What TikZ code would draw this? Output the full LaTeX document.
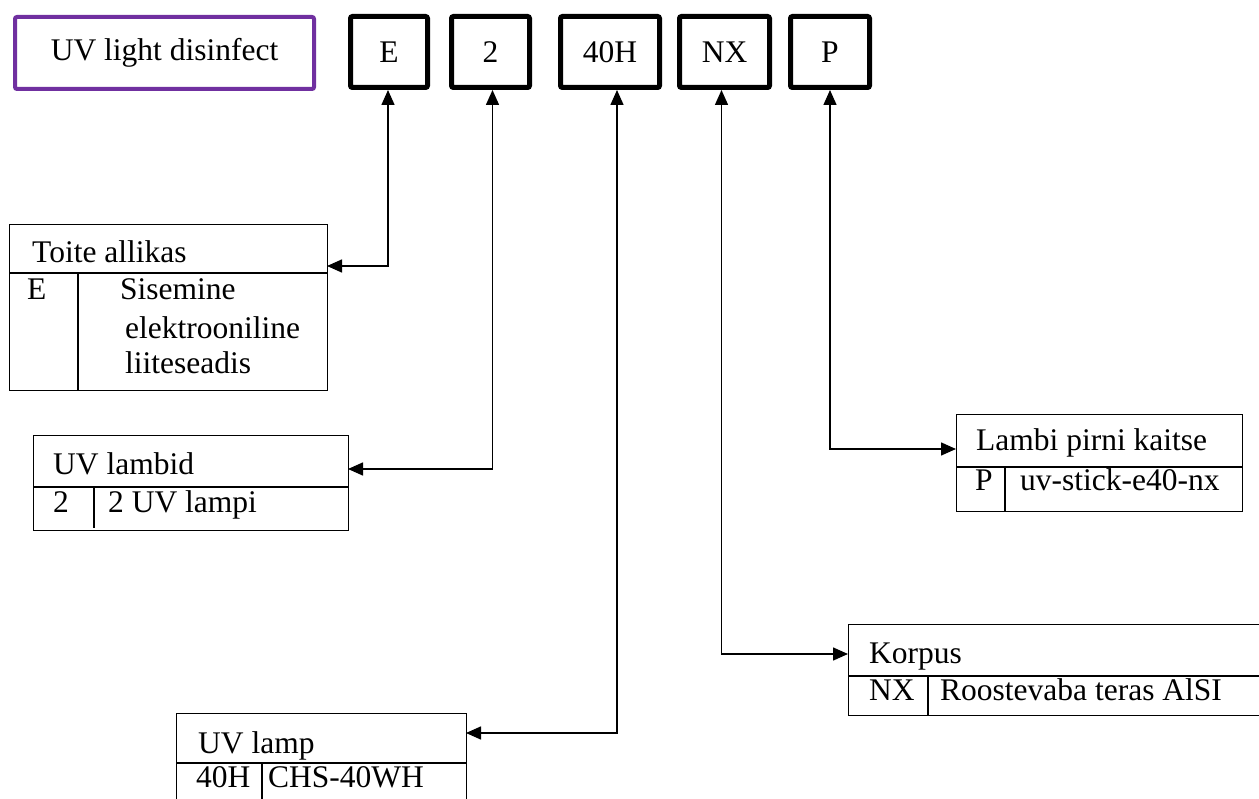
\documentclass[tikz,border=0pt]{standalone}
\usepackage{fontspec}
\setmainfont{Liberation Serif}
\usetikzlibrary{arrows.meta}
\definecolor{uvpurple}{HTML}{7030A0}
\begin{document}
\begin{tikzpicture}[x=1pt,y=-1pt,
  txt/.style={font=\fontsize{31.5}{37}\selectfont, inner sep=0pt, anchor=base west},
  codebox/.style={draw=black, line width=5pt, rounded corners=2pt, minimum height=71pt,
     inner sep=0pt, font=\fontsize{31.5}{37}\selectfont},
  titlebox/.style={draw=uvpurple, line width=4pt, rounded corners=2pt, minimum height=72pt,
     minimum width=299pt, inner sep=0pt, font=\fontsize{31.5}{37}\selectfont},
  tbl/.style={draw=black, line width=1.3pt, inner sep=0pt, anchor=north west},
  sep/.style={line width=2pt},
  vsep/.style={line width=1.3pt},
  conn/.style={line width=1.5pt, {Triangle[length=15pt,width=13pt]}-{Triangle[length=15pt,width=13pt]}}
]
\useasboundingbox (0,0) rectangle (1259,799);

% top row
\node[titlebox] (title) at (164.5,53) {UV light disinfect};
\node[codebox, minimum width=77pt] (cE) at (389,52) {E};
\node[codebox, minimum width=78pt] (c2) at (490.5,52) {2};
\node[codebox, minimum width=99pt] (c40) at (610,52) {40H};
\node[codebox, minimum width=90pt] (cNX) at (724.5,52) {NX};
\node[codebox, minimum width=79pt] (cP) at (830,52) {P};

% Toite allikas
\node[tbl, minimum width=318pt, minimum height=166pt] (toite) at (9,224) {};
\draw[sep] (toite.west |- 0,273) -- (toite.east |- 0,273);
\draw[vsep] (78,273) -- (toite.south -| 78,0);
\node[txt] (toiteT) at (32,263) {Toite allikas};
\node[txt] (toiteC) at (27,300) {E};
\node[txt] (toiteD1) at (120,300) {Sisemine};
\node[txt] (toiteD2) at (125,339) {elektrooniline};
\node[txt] (toiteD3) at (125,374) {liiteseadis};
\coordinate (toiteIn) at (327,266);

% UV lambid
\node[tbl, minimum width=315pt, minimum height=95pt] (lambid) at (33,435) {};
\draw[sep] (lambid.west |- 0,487) -- (lambid.east |- 0,487);
\draw[vsep] (94,487) -- (94,528);
\node[txt] (lambidT) at (53,475) {UV lambid};
\node[txt] (lambidC) at (53,512) {2};
\node[txt] (lambidD) at (108,512) {2 UV lampi};
\coordinate (lambidIn) at (348,469);

% UV lamp
\node[tbl, minimum width=290pt, minimum height=110pt] (lamp) at (176,713) {};
\draw[sep] (lamp.west |- 0,763) -- (lamp.east |- 0,763);
\draw[vsep] (262,763) -- (262,810);
\node[txt] (lampT) at (198,753) {UV lamp};
\node[txt] (lampC) at (196,787) {40H};
\node[txt] (lampD) at (268,787) {CHS-40WH};
\coordinate (lampIn) at (466,733);

% Korpus
\node[tbl, minimum width=440pt, minimum height=91pt] (korpus) at (848,624) {};
\draw[sep] (korpus.west |- 0,676) -- (korpus.east |- 0,676);
\draw[vsep] (928,676) -- (928,715);
\node[txt] (korpusT) at (869,663) {Korpus};
\node[txt] (korpusC) at (869,700) {NX};
\node[txt] (korpusD) at (940,700) {Roostevaba teras AlSI};
\coordinate (korpusIn) at (848,654);

% Lambi pirni kaitse
\node[tbl, minimum width=286pt, minimum height=97pt] (kaitse) at (956,414) {};
\draw[sep] (kaitse.west |- 0,467) -- (kaitse.east |- 0,467);
\draw[vsep] (1005,467) -- (1005,511);
\node[txt] (kaitseT) at (976,451) {Lambi pirni kaitse};
\node[txt] (kaitseC) at (975,490) {P};
\node[txt] (kaitseD) at (1020,490) {uv-stick-e40-nx};
\coordinate (kaitseIn) at (956,449);

% connectors
\draw[conn] ([xshift=-1pt]cE.south) |- (toiteIn);
\draw[conn] ([xshift=2pt]c2.south) |- (lambidIn);
\draw[conn] ([xshift=7pt]c40.south) |- (lampIn);
\draw[conn] ([xshift=-3pt]cNX.south) |- (korpusIn);
\draw[conn] (cP.south) |- (kaitseIn);
\end{tikzpicture}
\end{document}
